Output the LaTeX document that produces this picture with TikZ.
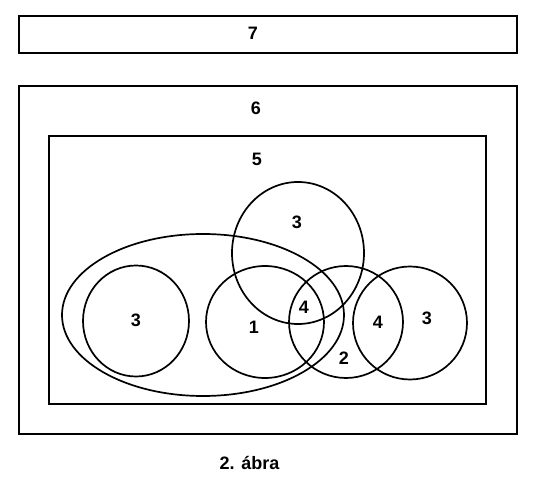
\documentclass[tikz,border=0pt]{standalone}
\usepackage{fontspec}
\setmainfont{Liberation Sans}

\begin{document}
\begin{tikzpicture}[x=1pt,y=-1pt,line width=1.7pt,
    box/.style={line width=2.2pt},
    lbl/.style={font=\fontsize{18}{20}\selectfont\bfseries, inner sep=0pt}]
    \useasboundingbox (0,0) rectangle (539,489);

    % Boxes
    \draw[box] (18.7,15.7) rectangle (516.7,53.3);
    \node[lbl] (seven) at (253,33) {7};
    \draw[box] (18.7,86) rectangle (516.7,434.3);
    \node[lbl] (six) at (256,108) {6};
    \draw[box] (49,136) rectangle (486.3,403.7);
    \node[lbl] (five) at (257,159) {5};

    % Sets
    \draw (203,315) ellipse [x radius=141pt, y radius=81pt];
    \draw (298,253) ellipse [x radius=66pt, y radius=71pt];
    \draw (136,321) ellipse [x radius=53pt, y radius=55.5pt];
    \draw (265,322) ellipse [x radius=59pt, y radius=56pt];
    \draw (346,322) ellipse [x radius=57pt, y radius=56pt];
    \draw (410,323) ellipse [x radius=57pt, y radius=56.5pt];

    % Region labels
    \node[lbl] (topthree) at (297,222) {3};
    \node[lbl] (leftthree) at (136,320) {3};
    \node[lbl] (one) at (254,327) {1};
    \node[lbl] (fourl) at (304,307) {4};
    \node[lbl] (two) at (344,358) {2};
    \node[lbl] (fourr) at (378,322) {4};
    \node[lbl] (rightthree) at (427,318) {3};

    \node[lbl] (caption) at (249.5,463) {2. ábra};
\end{tikzpicture}
\end{document}
